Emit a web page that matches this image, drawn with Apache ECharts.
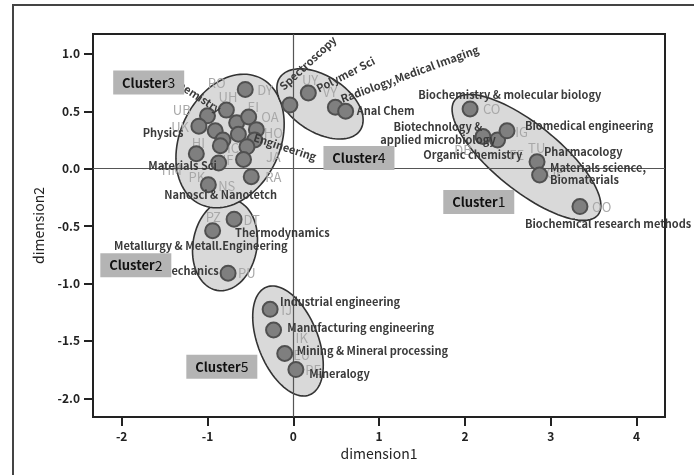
<!DOCTYPE html>
<html><head><meta charset="utf-8">
<script src="https://cdn.jsdelivr.net/npm/echarts@6/dist/echarts.min.js"></script>
<style>html,body{margin:0;padding:0;background:#fff}#c{width:694px;height:475px}</style>
</head><body><div id="c"></div>
<script>
// ---- tick labels ----
const xTicks = [-2, -1, 0, 1, 2, 3, 4];
const yTicks = [-2, -1.5, -1, -0.5, 0, 0.5, 1];

// ---- points (dimension1, dimension2) ----
const cluster1 = [[2.06,0.52],[2.21,0.28],[2.38,0.25],[2.49,0.33],[2.84,0.06],[2.87,-0.055],[3.34,-0.33]];
const cluster2 = [[-0.94,-0.54],[-0.69,-0.44],[-0.76,-0.91]];
const cluster3 = [[-0.56,0.69],[-0.78,0.51],[-1.00,0.46],[-1.10,0.37],[-0.91,0.33],[-0.66,0.40],[-0.52,0.45],
                  [-0.43,0.34],[-0.45,0.25],[-0.64,0.30],[-0.82,0.25],[-0.85,0.20],[-0.54,0.19],[-1.13,0.13],
                  [-0.87,0.05],[-0.58,0.08],[-0.49,-0.07],[-0.99,-0.14]];
const cluster4 = [[-0.04,0.555],[0.175,0.66],[0.49,0.535],[0.61,0.50]];
const cluster5 = [[-0.27,-1.225],[-0.23,-1.405],[-0.10,-1.61],[0.03,-1.75]];

// ---- cluster ellipses (centre + two conjugate semi-axis vectors, data units) ----
const ellipseCenter = [[2.717,0.098],[-0.796,-0.665],[-0.737,0.241],[0.311,0.564],[-0.062,-1.501]];
const ellipseAxisA  = [[0.833,-0.501],[0.093,0.395],[0.345,0.552],[0.470,-0.227],[0.253,-0.469]];
const ellipseAxisB  = [[-0.241,-0.224],[0.367,-0.049],[0.528,-0.184],[-0.178,-0.205],[-0.324,-0.098]];

// ---- cluster tags ----
const clusterNames = ['1','2','3','4','5'];
const clusterTagAt = [[2.161,-0.290],[-1.835,-0.841],[-1.685,0.750],[0.765,0.093],[-0.833,-1.725]];

// ---- field labels ----
const labelTexts = ['Chemistry','Physics','Materials Sci','Nanosci & Nanotetch','Engineering','Spectroscopy','Polymer Sci',
  'Radiology,Medical Imaging','Anal Chem','Biochemistry & molecular biology','Biotechnology &\napplied microbiology',
  'Organic chemistry','Biomedical engineering','Pharmacology','Materials science,\nBiomaterials','Biochemical research methods',
  'Thermodynamics','Metallurgy & Metall.Engineering','Mechanics','Industrial engineering','Manufacturing engineering',
  'Mining & Mineral processing','Mineralogy'];
const labelAt = [[-1.40,0.773],[-1.755,0.314],[-1.689,0.024],[-1.503,-0.229],[-0.458,0.276],[-0.143,0.703],[0.276,0.694],
  [0.556,0.607],[0.739,0.505],[1.456,0.642],[1.686,0.310],[1.515,0.119],[2.700,0.375],[2.921,0.148],[2.991,-0.046],
  [2.700,-0.482],[-0.679,-0.563],[-2.089,-0.671],[-1.530,-0.889],[-0.155,-1.164],[-0.070,-1.382],[0.040,-1.585],[0.186,-1.791]];
const labelAngle = [-33,0,0,0,-18,43,27,20,0,0,0,0,0,0,0,0,0,0,0,0,0,0,0];
const labelAlign = ['left','left','left','left','left','left','left','left','left','left','center','left','left','left','left',
  'left','left','left','left','left','left','left','left'];

// ---- grey journal codes ----
const codeTexts = ['RO','DY','UH','UB','EI','OA','UK','HO','JA','HI','IC','IF','HM','PK','NS','RA','PZ','DT','PU','IJ','IK','EU','PE',
  'UY','VY','CO','IG','DB','FE','TU','QE','OO'];
const codeAt = [[-0.892,0.744],[-0.330,0.686],[-0.761,0.627],[-1.300,0.511],[-0.466,0.540],[-0.271,0.453],[-1.320,0.366],
  [-0.233,0.311],[-0.233,0.105],[-1.107,0.224],[-0.703,0.180],[-0.761,0.076],[-1.417,-0.011],[-1.125,-0.070],[-0.776,-0.151],
  [-0.233,-0.075],[-0.932,-0.418],[-0.485,-0.447],[-0.543,-0.911],[-0.077,-1.231],[0.098,-1.477],[0.098,-1.623],[0.233,-1.753],
  [0.195,0.773],[0.428,0.671],[2.312,0.517],[2.661,0.317],[1.977,0.163],[2.603,0.119],[2.836,0.178],[3.049,-0.040],[3.593,-0.336]];

const FONT = '"Noto Sans CJK KR","Noto Sans",sans-serif';
const chart = echarts.init(document.getElementById('c'), null, {renderer:'canvas'});

const dotStyle = {color:'#7f7f7f', borderColor:'#505050', borderWidth:2, opacity:1};
function dotSeries(d){ return {type:'scatter', data:d, symbolSize:15, itemStyle:dotStyle, z:5, silent:true}; }

const option = {
  animation:false,
  backgroundColor:'#fff',
  graphic:[{type:'rect', shape:{x:13, y:5, width:720, height:500}, style:{fill:'none', stroke:'#444', lineWidth:2}, z:-1}],
  grid:{left:93, top:34, width:572, height:383, show:true, borderColor:'#222', borderWidth:2, backgroundColor:'transparent'},
  xAxis:{type:'value', min:-2.334, max:4.331, position:'bottom',
    name:'dimension1', nameLocation:'middle', nameGap:30,
    nameTextStyle:{fontFamily:FONT, fontSize:14, color:'#222'},
    axisLine:{show:false, onZero:false}, splitLine:{show:false},
    axisTick:{show:true, length:9, customValues:xTicks, lineStyle:{color:'#222', width:2}},
    axisLabel:{customValues:xTicks, margin:13, fontFamily:FONT, fontSize:12, color:'#222', fontWeight:'bold'}},
  yAxis:{type:'value', min:-2.163, max:1.173, position:'left',
    name:'dimension2', nameLocation:'middle', nameGap:47, nameRotate:90,
    nameTextStyle:{fontFamily:FONT, fontSize:14, color:'#222'},
    axisLine:{show:false, onZero:false}, splitLine:{show:false},
    axisTick:{show:true, length:9, customValues:yTicks, lineStyle:{color:'#222', width:2}},
    axisLabel:{customValues:yTicks, margin:13, fontFamily:FONT, fontSize:12, color:'#222', fontWeight:'bold',
      formatter:v=>v.toFixed(1)}},
  series:[
    {type:'custom', z:1, silent:true, clip:false,
     data:ellipseCenter.map((c,i)=>[c[0],c[1],ellipseAxisA[i][0],ellipseAxisA[i][1],ellipseAxisB[i][0],ellipseAxisB[i][1]]),
     encode:{x:0,y:1},
     renderItem:(params, api)=>{
       const cx=api.value(0), cy=api.value(1), ax=api.value(2), ay=api.value(3), bx=api.value(4), by=api.value(5);
       const pts=[];
       for(let k=0;k<96;k++){const t=k/96*Math.PI*2, c=Math.cos(t), s=Math.sin(t);
         pts.push(api.coord([cx+ax*c+bx*s, cy+ay*c+by*s]));}
       return {type:'polygon', shape:{points:pts}, style:{fill:'#d9d9d9', stroke:'#333', lineWidth:1.6}};
     }},
    {type:'scatter', data:[], z:2, silent:true,
     markLine:{silent:true, symbol:'none', animation:false, label:{show:false},
       lineStyle:{color:'#555', width:1.2, type:'solid'}, data:[{xAxis:0},{yAxis:0}]}},
    {type:'custom', z:3, silent:true, clip:false,
     data:codeAt.map((p,i)=>[p[0],p[1],i]), encode:{x:0,y:1},
     renderItem:(params, api)=>{
       const p=api.coord([api.value(0),api.value(1)]);
       return {type:'text', x:p[0], y:p[1], style:{text:codeTexts[api.value(2)], fill:'#a8a8a8',
         font:'13px '+FONT, align:'center', verticalAlign:'middle'}};
     }},
    dotSeries(cluster1), dotSeries(cluster2), dotSeries(cluster3), dotSeries(cluster4), dotSeries(cluster5),
    {type:'custom', z:8, silent:true, clip:false,
     data:labelAt.map((p,i)=>[p[0],p[1],i]), encode:{x:0,y:1},
     renderItem:(params, api)=>{
       const i=api.value(2), p=api.coord([api.value(0),api.value(1)]);
       return {type:'text', x:p[0], y:p[1], rotation:labelAngle[i]*Math.PI/180,
         style:{text:labelTexts[i], fill:'#3a3a3a', font:'bold 11px '+FONT, align:labelAlign[i],
           verticalAlign:'middle', lineHeight:12.5}};
     }},
    {type:'custom', z:10, silent:true, clip:false,
     data:clusterTagAt.map((p,i)=>[p[0],p[1],i]), encode:{x:0,y:1},
     renderItem:(params, api)=>{
       const i=api.value(2), p=api.coord([api.value(0),api.value(1)]);
       return {type:'group', x:p[0], y:p[1], children:[
         {type:'rect', shape:{x:-35.5,y:-12,width:71,height:24}, style:{fill:'#b4b4b4'}},
         {type:'text', style:{text:'{b|Cluster}{n|'+clusterNames[i]+'}', x:0, y:0, align:'center', verticalAlign:'middle',
           rich:{b:{fontFamily:FONT, fontWeight:'bold', fontSize:13, fill:'#111', color:'#111'},
                 n:{fontFamily:FONT, fontWeight:'normal', fontSize:14, fill:'#111', color:'#111'}}}}
       ]};
     }}
  ]
};
chart.setOption(option);
</script></body></html>
